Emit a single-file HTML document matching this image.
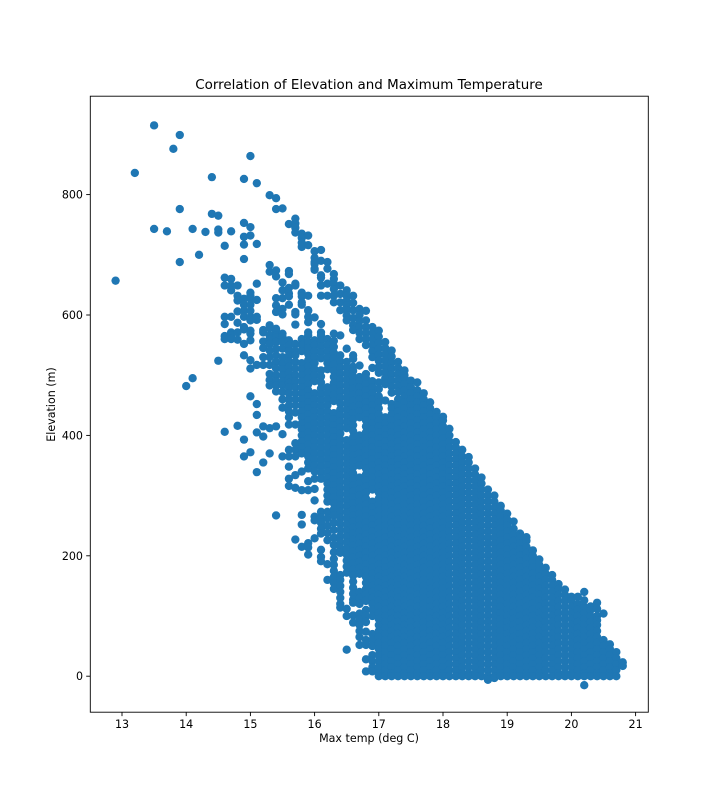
<!DOCTYPE html>
<html lang="en">
<head>
<meta charset="utf-8">
<title>Correlation of Elevation and Maximum Temperature</title>
<style>
html,body{margin:0;padding:0;background:#fff}
svg{display:block}
text{font-family:"DejaVu Sans","Liberation Sans",sans-serif;fill:#000}
</style>
</head>
<body>
<svg id="chart" xmlns="http://www.w3.org/2000/svg" width="720" height="800" viewBox="0 0 720 800">
<rect x="0" y="0" width="720" height="800" fill="#fff"/>
<g id="points"></g>
<g id="ticks"></g>
<rect x="90.3" y="96.2" width="558" height="616" fill="none" stroke="#000" stroke-width="0.9"/>
<text x="369" y="89" font-size="13.45" text-anchor="middle">Correlation of Elevation and Maximum Temperature</text>
<text x="369" y="742" font-size="11.1" text-anchor="middle">Max temp (deg C)</text>
<text transform="translate(55 404.5) rotate(-90)" font-size="11.1" text-anchor="middle">Elevation (m)</text>
</svg>
<script>
const xTicks=[13,14,15,16,17,18,19,20,21];
const yTicks=[0,200,400,600,800];
const temps=[12.9,13.2,13.5,13.7,13.8,13.9,14.0,14.1,14.2,14.3,14.4,14.5,14.6,14.7,14.8,14.9,15.0,15.1,15.2,15.3,15.4,15.5,15.6,15.7,15.8,15.9,16.0,16.1,16.2,16.3,16.4,16.5,16.6,16.7,16.8,16.9,17.0,17.1,17.2,17.3,17.4,17.5,17.6,17.7,17.8,17.9,18.0,18.1,18.2,18.3,18.4,18.5,18.6,18.7,18.8,18.9,19.0,19.1,19.2,19.3,19.4,19.5,19.6,19.7,19.8,19.9,20.0,20.1,20.2,20.3,20.4,20.5,20.6,20.7,20.8];
const elevations=[
[657],
[836],
[915,743],
[739],
[876],
[899,776,688],
[482],
[743,495],
[700],
[738],
[829,768],
[765,742,737,524],
[715,662,649,597,585,565,560,406],
[739,660,649,641,597,571,566,560],
[649,632,624,606,587,571,559,416],
[826,753,730,717,693,627,617,607,597,580,576,552,533,393,365],
[864,746,732,637,632,627,617,607,597,591,574,569,558,525,511,465,372],
[819,718,652,625,597,592,517,452,434,405,339],
[575,571,556,545,530,517,415,398,355],
[799,683,672,583,578,566,560,552,541,530,517,502,492,483,412,370],
[794,776,674,664,628,616,605,577,572,566,562,555,544,533,522,511,500,490,483,473,415,267],
[777,654,641,628,610,601,569,564,555,544,530,519,510,500,490,483,472,460,446,402,365],
[751,673,668,645,636,631,617,558,549,540,533,523,514,504,494,487,480,470,460,450,440,430,418,376,365,348,328,316],
[760,752,745,737,652,649,605,601,584,552,541,533,522,511,500,490,480,470,460,450,438,418,387,376,365,334,313,227],
[735,728,720,713,637,635,631,621,617,560,550,540,520,510,500,490,480,470,460,450,440,430,420,410,400,390,380,370,340,309,268,252,215],
[732,716,632,608,607,597,588,571,566,555,545,535,525,515,505,495,485,475,465,455,445,435,425,415,405,395,385,375,365,355,345,324,309,221,214,202],
[706,695,688,685,677,675,596,558,550,540,530,520,510,500,490,470,460,450,440,430,420,410,400,390,380,370,360,350,340,328,311,292,265,259,229],
[708,690,666,662,650,649,632,585,571,566,558,548,538,528,508,498,488,478,468,458,448,438,428,418,408,398,388,378,368,358,348,338,328,273,264,255,245,237,210,198,191],
[688,677,652,632,560,550,540,530,520,510,480,470,460,450,440,430,420,410,400,390,380,370,360,350,340,330,320,310,300,290,273,262,250,238,226,186,160],
[668,660,652,643,632,621,569,557,547,537,527,517,507,497,487,477,467,457,437,427,417,407,397,387,377,367,357,347,337,327,317,307,297,287,277,267,255,243,230,218,206,195,185,175,165,155,145],
[649,635,621,608,566,533,523,513,503,493,483,473,463,453,443,433,423,413,403,393,383,373,363,353,343,333,323,313,303,293,283,273,263,253,243,233,223,213,205,168,160,150,140,130,120,114],
[641,632,624,616,608,599,591,544,522,512,502,492,482,472,462,452,442,432,422,412,392,382,372,362,352,342,332,322,312,302,292,282,272,262,252,242,232,222,212,202,192,182,172,112,100,44],
[632,620,608,595,583,575,533,527,514,507,497,487,477,467,457,447,437,427,417,407,397,387,377,367,357,347,337,327,317,307,297,287,277,267,257,247,237,227,217,207,197,187,177,167,157,147,137,127,122,101,89],
[610,600,590,580,570,560,516,497,490,480,470,460,450,440,430,400,390,380,370,360,350,330,320,310,300,290,280,270,260,250,240,230,220,210,200,190,180,170,140,130,120,104,95,85,75,65,52],
[607,591,580,570,560,550,502,495,485,475,465,455,445,435,425,415,405,395,385,375,365,355,345,335,325,315,305,295,285,275,265,255,245,235,225,215,205,195,185,175,165,155,145,135,125,110,100,90,74,60,52,28,8],
[580,570,560,550,540,530,512,490,480,470,460,450,440,430,420,410,400,390,380,370,360,350,340,330,320,310,290,280,270,260,250,240,230,220,210,200,190,180,170,160,150,140,130,120,110,100,70,60,50,35,25,15,8],
[574,564,554,544,534,524,514,504,488,477,465,455,445,435,425,415,405,395,385,375,365,355,345,335,325,315,305,295,285,275,265,255,245,235,225,215,205,195,185,175,165,155,145,135,125,115,105,95,85,75,65,55,45,35,25,15,5,0],
[555,545,535,525,515,505,495,485,458,430,420,410,400,390,380,370,360,350,340,330,320,310,300,290,280,270,260,250,240,230,220,210,200,190,180,170,160,150,140,130,120,110,100,90,80,70,60,50,40,30,20,10,0],
[541,531,521,511,501,491,481,471,452,445,435,425,415,405,395,385,375,365,355,345,335,325,315,305,295,285,275,265,255,245,235,225,215,205,195,185,175,165,155,145,135,125,115,105,95,85,75,65,55,45,35,25,15,5,0],
[522,512,502,492,482,472,460,450,440,430,420,410,400,390,380,370,360,350,340,330,320,310,300,290,280,270,260,250,240,230,220,210,200,190,180,170,160,150,140,130,120,110,100,90,80,70,60,50,40,30,20,10,0],
[508,500,495,485,475,465,455,445,435,425,415,405,395,385,375,365,355,345,335,325,315,305,295,285,275,265,255,245,235,225,215,205,195,185,175,165,155,145,135,125,115,105,95,85,75,65,55,45,35,25,15,5,0],
[491,480,470,460,450,440,430,420,410,400,390,380,370,360,350,340,330,320,310,300,290,280,270,260,250,240,230,220,210,200,190,180,170,160,150,140,130,120,110,100,90,80,70,60,50,40,30,20,10,0],
[488,475,465,455,445,435,425,415,405,395,385,375,365,355,345,335,325,315,305,295,285,275,265,255,245,235,225,215,205,195,185,175,165,155,145,135,125,115,105,95,85,75,65,55,45,35,25,15,5,0],
[470,460,450,440,430,420,410,400,390,380,370,360,350,340,330,320,310,300,290,280,270,260,250,240,230,220,210,200,190,180,170,160,150,140,130,120,110,100,90,80,70,60,50,40,30,20,10,0],
[455,445,435,425,415,405,395,385,375,365,355,345,335,325,315,305,295,285,275,265,255,245,235,225,215,205,195,185,175,165,155,145,135,125,115,105,95,85,75,65,55,45,35,25,15,5,0],
[439,430,420,410,400,390,380,370,360,350,340,330,320,310,300,290,280,270,260,250,240,230,220,210,200,190,180,170,160,150,140,130,120,110,100,90,80,70,60,50,40,30,20,10,0],
[431,425,415,405,395,385,375,365,355,345,335,325,315,305,295,285,275,265,255,245,235,225,215,205,195,185,175,165,155,145,135,125,115,105,95,85,75,65,55,45,35,25,15,5,0],
[411,400,390,380,370,360,350,340,330,320,310,300,290,280,270,260,250,240,230,220,210,200,190,180,170,160,150,140,130,120,110,100,90,80,70,60,50,40,30,20,10,0],
[389,380,370,360,350,340,330,320,310,300,290,280,270,260,250,240,230,220,210,200,190,180,170,160,150,140,130,120,110,100,90,80,70,60,50,40,30,20,10,0],
[376,365,355,345,335,325,315,305,295,285,275,265,255,245,235,225,215,205,195,185,175,165,155,145,135,125,115,105,95,85,75,65,55,45,35,25,15,5,0],
[364,355,345,335,325,315,305,295,285,275,265,255,245,235,225,215,205,195,185,175,165,155,145,135,125,115,105,95,85,75,65,55,45,35,25,15,5,0],
[345,335,325,315,305,295,285,275,265,255,245,235,225,215,205,195,185,175,165,155,145,135,125,115,105,95,85,75,65,55,45,35,25,15,5,0],
[330,320,310,300,290,280,270,260,250,240,230,220,210,200,190,180,170,160,150,140,130,120,110,100,90,80,70,60,50,40,30,20,10,0],
[310,300,290,280,270,260,250,240,230,220,210,200,190,180,170,160,150,140,130,120,110,100,90,80,70,60,50,40,30,20,10,0,-6],
[300,290,280,270,260,250,240,230,220,210,200,190,180,170,160,150,140,130,120,110,100,90,80,70,60,50,40,30,20,10,0,-3],
[283,275,265,255,245,235,225,215,205,195,185,175,165,155,145,135,125,115,105,95,85,75,65,55,45,35,25,15,5,0],
[270,260,250,240,230,220,210,200,190,180,170,160,150,140,130,120,110,100,90,80,70,60,50,40,30,20,10,0],
[257,245,235,225,215,205,195,185,175,165,155,145,135,125,115,105,95,85,75,65,55,45,35,25,15,5,0],
[237,230,220,210,200,190,180,170,160,150,140,130,120,110,100,90,80,70,60,50,40,30,20,10,0],
[231,225,215,205,195,185,175,165,155,145,135,125,115,105,95,85,75,65,55,45,35,25,15,5,0],
[209,200,190,180,170,160,150,140,130,120,110,100,90,80,70,60,50,40,30,20,10,0],
[194,185,175,165,155,145,135,125,115,105,95,85,75,65,55,45,35,25,15,5,0],
[180,170,160,150,140,130,120,110,100,90,80,70,60,50,40,30,20,10,0],
[168,160,150,140,130,120,110,100,90,80,70,60,50,40,30,20,10,0],
[153,145,135,125,115,105,95,85,75,65,55,45,35,25,15,5,0],
[144,135,125,115,105,95,85,75,65,55,45,35,25,15,5,0],
[132,125,115,105,95,85,75,65,55,45,35,25,15,5,0],
[132,120,110,100,90,80,70,60,50,40,30,20,10,0],
[140,126,115,105,95,85,75,65,55,45,35,25,15,5,0,-15],
[116,110,100,90,80,70,60,50,40,30,20,10,0],
[122,112,100,93,85,75,65,55,45,35,25,15,5,0],
[104,60,50,40,30,20,10,0],
[53,45,35,25,15,5,0],
[40,30,20,10,0],
[23,17]
];
const SVG_NS='http://www.w3.org/2000/svg';
const xScale=t=>122+(t-13)*64.2;
const yScale=e=>676.2-e*0.602;
const pointsGroup=document.getElementById('points');
const ticksGroup=document.getElementById('ticks');
temps.forEach((t,i)=>{
  elevations[i].forEach(e=>{
    const c=document.createElementNS(SVG_NS,'circle');
    c.setAttribute('cx',xScale(t));
    c.setAttribute('cy',yScale(e));
    c.setAttribute('r',4.17);
    c.setAttribute('fill','#1f77b4');
    
    
    pointsGroup.appendChild(c);
  });
});
xTicks.forEach(v=>{
  const x=xScale(v);
  const m=document.createElementNS(SVG_NS,'line');
  m.setAttribute('x1',x);m.setAttribute('x2',x);m.setAttribute('y1',712);m.setAttribute('y2',716.1);
  m.setAttribute('stroke','#000');m.setAttribute('stroke-width',0.9);
  
  
  ticksGroup.appendChild(m);
  const l=document.createElementNS(SVG_NS,'text');
  l.setAttribute('x',x);l.setAttribute('y',728);l.setAttribute('font-size',11.1);l.setAttribute('text-anchor','middle');
  l.textContent=v;
  
  
  ticksGroup.appendChild(l);
});
yTicks.forEach(v=>{
  const y=yScale(v);
  const m=document.createElementNS(SVG_NS,'line');
  m.setAttribute('x1',86.2);m.setAttribute('x2',90.3);m.setAttribute('y1',y);m.setAttribute('y2',y);
  m.setAttribute('stroke','#000');m.setAttribute('stroke-width',0.9);
  
  
  ticksGroup.appendChild(m);
  const l=document.createElementNS(SVG_NS,'text');
  l.setAttribute('x',83);l.setAttribute('y',y+4);l.setAttribute('font-size',11.1);l.setAttribute('text-anchor','end');
  l.textContent=v;
  
  
  ticksGroup.appendChild(l);
});
</script>
</body>
</html>
